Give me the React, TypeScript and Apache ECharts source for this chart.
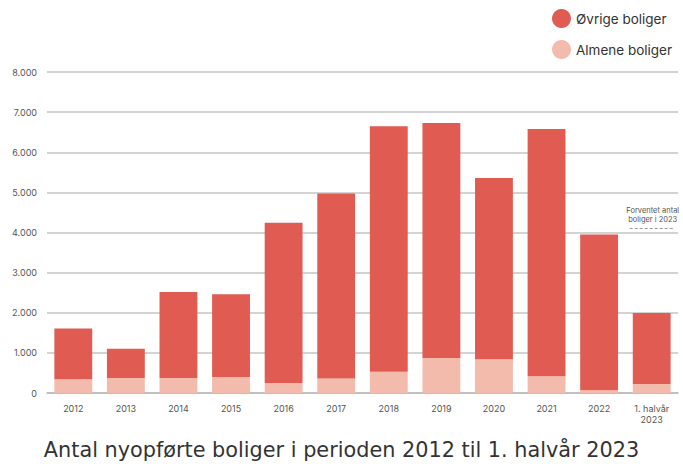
import React, { useEffect, useRef } from "react";
import * as echarts from "echarts";

const categories = ["2012", "2013", "2014", "2015", "2016", "2017", "2018", "2019", "2020", "2021", "2022", "1. halvår\n2023"];
const almene = [340, 375, 375, 400, 250, 360, 530, 870, 840, 415, 70, 225];
const ovrige = [1270, 725, 2145, 2060, 3990, 4610, 6120, 5860, 4520, 6165, 3880, 1770];
const forventet = [[11, 4100]];
const yTicks = { min: 0, max: 8000, interval: 1000 };

const RED = "#E05B52";
const PINK = "#F3BBAB";

export default function App() {
  const ref = useRef<HTMLDivElement>(null);
  useEffect(() => {
    const chart = echarts.init(ref.current!, null, { renderer: "svg" });
    chart.setOption({
      animation: false,
      title: {
        text: "Antal nyopførte boliger i perioden 2012 til 1. halvår 2023",
        left: "center",
        top: 439,
        padding: 0,
        textStyle: { fontFamily: "DejaVu Sans", fontSize: 20.8, fontWeight: "normal", color: "#333" },
      },
      legend: {
        orient: "vertical",
        left: 547,
        top: 4,
        itemWidth: 19,
        itemHeight: 19,
        itemGap: 12,
        icon: "circle",
        data: ["Øvrige boliger", "Almene boliger"],
        textStyle: { fontFamily: "Inter", fontSize: 13.5, color: "#333" },
      },
      grid: { left: 47, right: 5, top: 72, bottom: 71, containLabel: false },
      xAxis: {
        type: "category",
        data: categories,
        axisTick: { show: false },
        axisLine: { lineStyle: { color: "#bbb", width: 1.5 } },
        axisLabel: { color: "#555", fontSize: 9, fontFamily: "Inter", margin: 10, lineHeight: 11, interval: 0 },
      },
      yAxis: {
        type: "value",
        min: yTicks.min,
        max: yTicks.max,
        interval: yTicks.interval,
        axisLine: { show: false },
        axisTick: { show: false },
        splitLine: { lineStyle: { color: "#c4c4c4", width: 1.5 } },
        axisLabel: {
          color: "#555",
          fontSize: 9,
          fontFamily: "Inter",
          margin: 10,
          formatter: (v: number) => (v >= 1000 ? `${Math.floor(v / 1000)}.${String(v % 1000).padStart(3, "0")}` : String(v)),
        },
      },
      series: [
        {
          name: "Almene boliger",
          type: "bar",
          stack: "total",
          data: almene,
          barCategoryGap: "28%",
          itemStyle: { color: PINK },
        },
        {
          name: "Øvrige boliger",
          type: "bar",
          stack: "total",
          data: ovrige,
          barCategoryGap: "28%",
          itemStyle: { color: RED },
        },
        {
          name: "forventet",
          type: "custom",
          data: forventet,
          z: 10,
          renderItem: (params: any, api: any) => {
            const p = api.coord([api.value(0), api.value(1)]);
            const half = 22;
            return {
              type: "group",
              children: [
                {
                  type: "line",
                  shape: { x1: p[0] - half, y1: p[1], x2: p[0] + half, y2: p[1] },
                  style: { stroke: "#999", lineWidth: 1, lineDash: [3, 2] },
                },
                {
                  type: "text",
                  x: p[0] + 1,
                  y: p[1] - 4,
                  style: {
                    text: "Forventet antal\nboliger i 2023",
                    fontSize: 7.5,
                    fontFamily: "Inter",
                    fill: "#555",
                    align: "center",
                    verticalAlign: "bottom",
                    lineHeight: 9,
                  },
                },
              ],
            };
          },
        },
      ],
    });
    return () => chart.dispose();
  }, []);
  return <div ref={ref} style={{ width: 683, height: 464, position: "absolute", left: 0, top: 0 }} />;
}
